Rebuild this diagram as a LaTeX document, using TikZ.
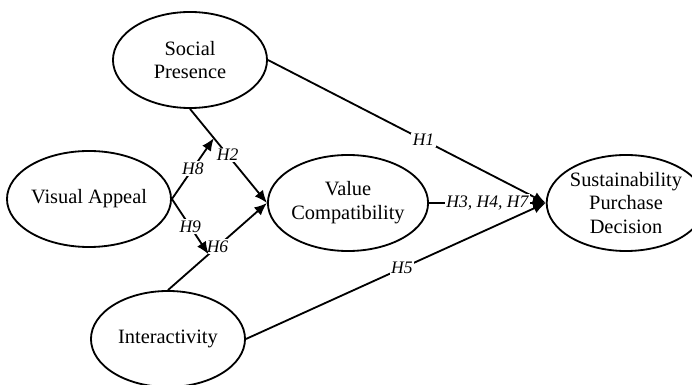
\documentclass[tikz,border=0pt]{standalone}
\usepackage{fontspec}
\setmainfont{Liberation Serif}
\usetikzlibrary{arrows.meta,positioning,shapes,calc}

\begin{document}
\begin{tikzpicture}[x=0.025cm, y=-0.025cm,
    construct/.style={ellipse, draw, line width=1.3pt, minimum width=3.85cm,
      minimum height=2.4cm, inner sep=0pt, align=center,
      font=\fontsize{14.5}{17}\selectfont},
    hyp/.style={fill=white, inner sep=1pt, font=\fontsize{12.5}{14}\selectfont\itshape},
    path/.style={line width=1.3pt, -{Latex[length=9pt,width=7.5pt]}}]
  \useasboundingbox (0,0) rectangle (692,385);
  \node[construct] (SP) at (190, 60) {Social\\Presence};
  \node[construct] (VA) at (89, 199) {Visual Appeal};
  \node[construct] (VC) at (348, 203) {Value\\Compatibility};
  \node[construct] (SPD) at (626, 203) {Sustainability\\Purchase\\Decision};
  \node[construct] (Int) at (168, 339) {Interactivity};
  \coordinate (M1) at ($(SP.south)!0.31!(VC.west)$);
  \coordinate (M2) at ($(Int.north)!0.41!(VC.west)$);
  \draw[path] (SP.south) -- node[hyp, pos=0.49] {H2} (VC.west);
  \draw[path] (Int.north) -- node[hyp, pos=0.5] {H6} (VC.west);
  \draw[path] (VA.east) -- node[hyp] {H8} (M1);
  \draw[path] (VA.east) -- node[hyp] {H9} (M2);
  \draw[path] (SP.east) -- node[hyp, pos=0.56] {H1} (SPD.west);
  \draw[path] (VC.east) -- node[hyp] {H3, H4, H7} (SPD.west);
  \draw[path] (Int.east) -- node[hyp, pos=0.52] {H5} (SPD.west);
\end{tikzpicture}
\end{document}
